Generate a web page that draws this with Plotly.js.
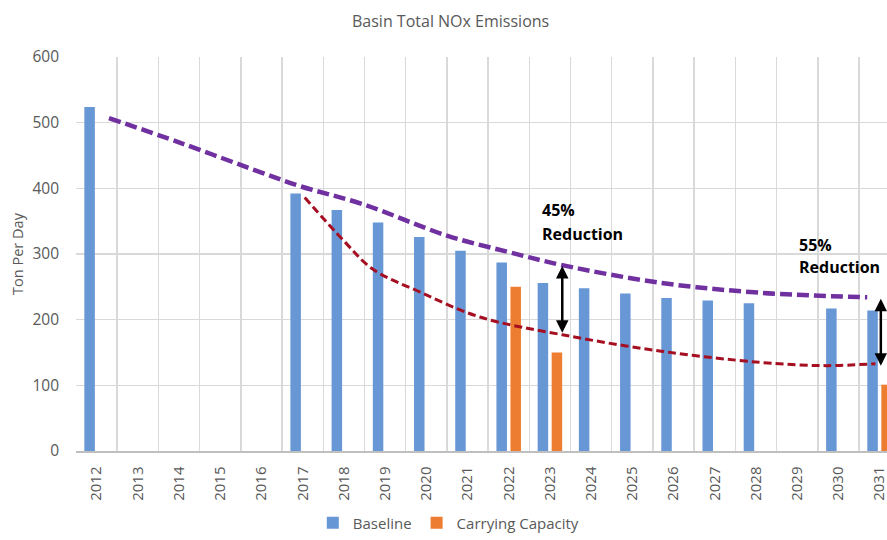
<!DOCTYPE html>
<html><head><meta charset="utf-8">
<script src="https://cdn.plot.ly/plotly-3.0.1.min.js"></script>
<style>body{margin:0;background:#fff}#chart{width:887px;height:540px}</style>
</head><body><div id="chart"></div>
<script>
const years = [2012,2013,2014,2015,2016,2017,2018,2019,2020,2021,2022,2023,2024,2025,2026,2027,2028,2029,2030,2031];
const yearLabels = years.map(String);
const baseline = [524,null,null,null,null,392,367,348,326,305,287,256,248,240,233,229,225,null,217,214];
const carrying = [null,null,null,null,null,null,null,null,null,null,250,150,null,null,null,null,null,null,null,101];
const baseTrendX = [2012.3,2014.0,2016.0,2016.9,2018.5,2020.5,2022.0,2023.3,2025.7,2028.1,2030.7];
const baseTrendY = [507,470,424,404,375,328,303,283,256,241,234];
const capTrendX = [2017.05,2018.0,2018.7,2019.85,2021.3,2023.3,2025.7,2028.1,2029.7,2030.9];
const capTrendY = [386,320,277,242,204,177,152,135,130,133];
const arrow1 = {x: 2023.3, top: 284, bottom: 180};
const arrow2 = {x: 2031.03, top: 234, bottom: 130};
const label1 = ['45%', 'Reduction'];
const label2 = ['55%', 'Reduction'];

const font = "'Open Sans', sans-serif";
const grey = '#595959';
const traces = [
  {type:'bar', name:'Baseline', x:years, y:baseline, marker:{color:'#6897D6'}},
  {type:'bar', name:'Carrying Capacity', x:years, y:carrying, marker:{color:'#ED7D31'}},
  {type:'scatter', mode:'lines', x:baseTrendX, y:baseTrendY, line:{color:'#7030A0', width:4.5, dash:'12px,5px', shape:'spline'}, showlegend:false, hoverinfo:'skip'},
  {type:'scatter', mode:'lines', x:capTrendX, y:capTrendY, line:{color:'#A50F21', width:3, dash:'8px,4px', shape:'spline'}, showlegend:false, hoverinfo:'skip'}
];
function dblArrow(a){
  return {x:a.x, y:a.bottom, ax:a.x, ay:a.top, xref:'x', yref:'y', axref:'x', ayref:'y',
    showarrow:true, arrowhead:2, startarrowhead:2, arrowside:'end+start', arrowwidth:2.5, arrowsize:1, startarrowsize:1, arrowcolor:'#000', text:''};
}
function txt(s, x, y){
  return {x:x, y:y, xref:'x', yref:'y', text:'<b>'+s+'</b>', showarrow:false, xanchor:'left', yanchor:'middle', font:{size:16, color:'#000', family:font}};
}
const layout = {
  width:887, height:540, paper_bgcolor:'#fff', plot_bgcolor:'#fff',
  margin:{l:76, r:0, t:57, b:82},
  font:{family:font, color:grey, size:14},
  title:{text:'Basin Total NOx Emissions', x:0.508, xref:'container', y:0.961, yref:'container', yanchor:'middle', xanchor:'center', font:{size:16, color:grey, family:font}},
  barmode:'group', bargap:0.32, bargroupgap:0.25,
  xaxis:{range:[2011.5, 2031.18], tickmode:'array', tickvals:years, ticktext:yearLabels, tickangle:-90,
    showgrid:false, zeroline:false, ticks:'', tickfont:{size:15, color:grey}, ticklabeloverflow:'allow', ticklabelstandoff:8,
    minor:{tick0:2011.5, dtick:1, showgrid:true, gridcolor:'#D9D9D9', gridwidth:1.5, ticks:''},
    showline:true, linecolor:'#BFBFBF', linewidth:1.5},
  yaxis:{range:[0,600], dtick:100, gridcolor:'#D9D9D9', gridwidth:1.5, zeroline:false, ticks:'',
    tickfont:{size:15.5, color:grey}, ticklabelstandoff:16,
    title:{text:'Ton Per Day', font:{size:14.5, color:grey}, standoff:5}},
  legend:{orientation:'h', x:0.292, xanchor:'left', y:-0.183, yanchor:'middle', font:{size:15, color:grey}, itemwidth:30, traceorder:'normal'},
  annotations:[
    dblArrow(arrow1), dblArrow(arrow2),
    txt(label1[0], 2022.76, 367), txt(label1[1], 2022.76, 331),
    txt(label2[0], 2029.0, 314), txt(label2[1], 2029.0, 280)
  ],
  showlegend:true
};
Plotly.newPlot('chart', traces, layout, {displayModeBar:false, staticPlot:true});
</script></body></html>
